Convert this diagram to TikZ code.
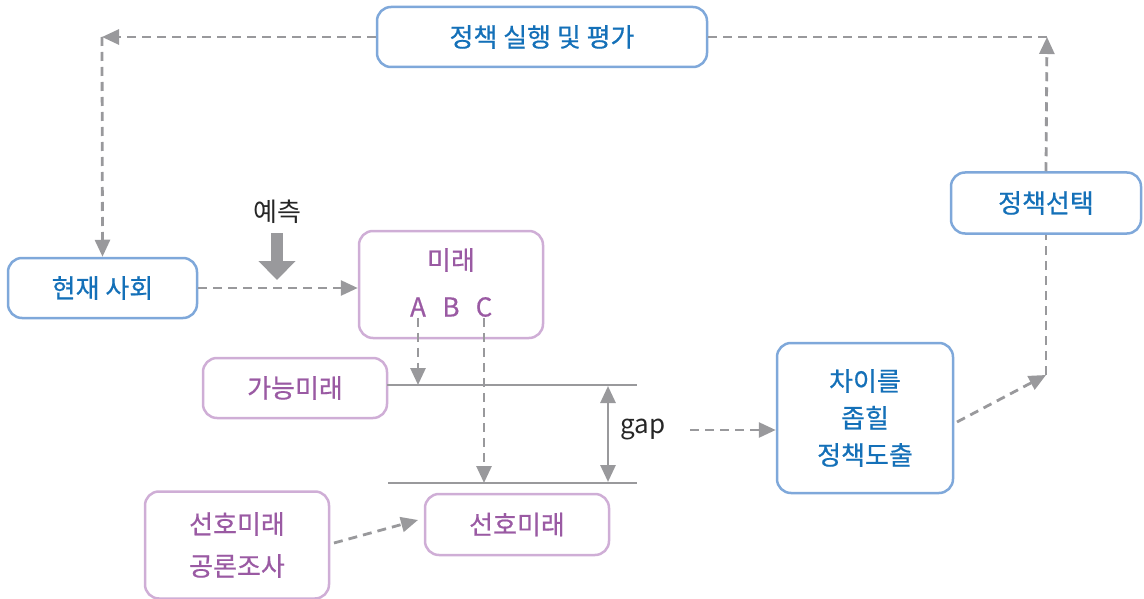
\documentclass[tikz,border=0pt]{standalone}
\usepackage{fontspec}
\setmainfont{Noto Sans CJK KR}
\newfontfamily\medfont{Noto Sans CJK KR}[FakeBold=0.6]
\usetikzlibrary{arrows.meta}
\definecolor{bbord}{HTML}{7FA8DA}
\definecolor{btext}{HTML}{1470B8}
\definecolor{pbord}{HTML}{CFAED6}
\definecolor{ptext}{HTML}{9A5AA3}
\definecolor{gline}{HTML}{99999C}
\tikzset{
  bluebox/.style={draw=bbord, line width=2.5pt, rounded corners=14pt, text=btext, inner sep=0pt, align=center, font=\medfont\fontsize{26}{37}\selectfont},
  purplebox/.style={draw=pbord, line width=2.5pt, rounded corners=14pt, text=ptext, inner sep=0pt, align=center, font=\medfont\fontsize{26}{42}\selectfont},
  ptxt/.style={text=ptext, inner sep=1pt, font=\medfont\fontsize{26}{30}\selectfont},
  btxt/.style={text=black!85, inner sep=1pt, font=\fontsize{26}{30}\selectfont},
  dasharrow/.style={draw=gline, line width=2.8pt, dash pattern=on 9pt off 6pt, -{Triangle[length=17pt,width=15pt]}},
  dashline/.style={draw=gline, line width=2.8pt, dash pattern=on 9pt off 6pt},
  thinline/.style={draw=gline, line width=1.5pt},
}
\begin{document}
\begin{tikzpicture}[x=1pt,y=-1pt]
\useasboundingbox (0,0) rectangle (1144,599);
% boxes
\node[bluebox, minimum width=330pt, minimum height=60pt] (plan) at (542,37) {정책 실행 및 평가};
\node[bluebox, minimum width=189pt, minimum height=60pt] (now) at (102.5,288) {현재 사회};
\node[bluebox, minimum width=190pt, minimum height=61pt] (choice) at (1046,203) {정책선택};
\node[bluebox, minimum width=176pt, minimum height=150pt] (gapbox) at (865,418) {차이를\\좁힐\\정책도출};
\node[purplebox, minimum width=184pt, minimum height=107pt] (future) at (451,284.5) {};
\node[ptxt] (futlab) at (451,260) {미래};
\node[ptxt] (A) at (418,307) {A};
\node[ptxt] (B) at (451,307) {B};
\node[ptxt] (C) at (484,307) {C};
\node[purplebox, minimum width=184pt, minimum height=60pt] (possible) at (295,388) {가능미래};
\node[purplebox, minimum width=184pt, minimum height=107pt] (survey) at (237,545) {선호미래\\공론조사};
\node[purplebox, minimum width=184pt, minimum height=61pt] (preferred) at (517,524.5) {선호미래};
\node[btxt] (predict) at (277,212) {예측};
\node[btxt, anchor=west] (gaplab) at (619,430) {gap};
% reference lines
\coordinate (l1a) at (387,385);
\coordinate (l1b) at (637,385);
\coordinate (l2a) at (388,483);
\coordinate (l2b) at (637,483);
\draw[thinline] (l1a) -- (l1b);
\draw[thinline] (l2a) -- (l2b);
% gap double arrow
\coordinate (g1) at (608,386);
\coordinate (g2) at (608,482);
\draw[draw=gline, fill=gline, line width=2.8pt, {Triangle[length=17pt,width=15pt]}-{Triangle[length=17pt,width=15pt]}] (g1) -- (g2);
% prediction arrow
\coordinate (pa1) at (277,233);
\coordinate (pa2) at (277,280);
\draw[draw=gline, line width=12pt, -{Triangle[length=19pt,width=36pt]}] (pa1) -- (pa2);
% connectors
\draw[dasharrow] (now.east) -- (future.west |- now.east);
\draw[dasharrow] (A.south) -- (A.south |- l1a);
\draw[dasharrow] (C.south) -- (C.south |- l2a);
\coordinate (gs) at (690,430);
\draw[dasharrow] (gs) -- (gapbox.west |- gs);
\coordinate (ss) at (334,543);
\coordinate (se) at (418,520);
\draw[dasharrow] (ss) -- (se);
\coordinate (cr) at (1046,375);
\coordinate (cs) at (957,422);
\draw[dasharrow] (cs) -- (cr);
\draw[dashline] (cr) -- (choice.south);
\coordinate (tr) at (1047,37);
\draw[dasharrow] (choice.north) -- (tr);
\draw[dashline] (plan.east) -- (tr);
\coordinate (tl) at (102,37);
\draw[dasharrow] (plan.west) -- (tl);
\draw[dasharrow] (tl) -- (now.north);
\end{tikzpicture}
\end{document}
